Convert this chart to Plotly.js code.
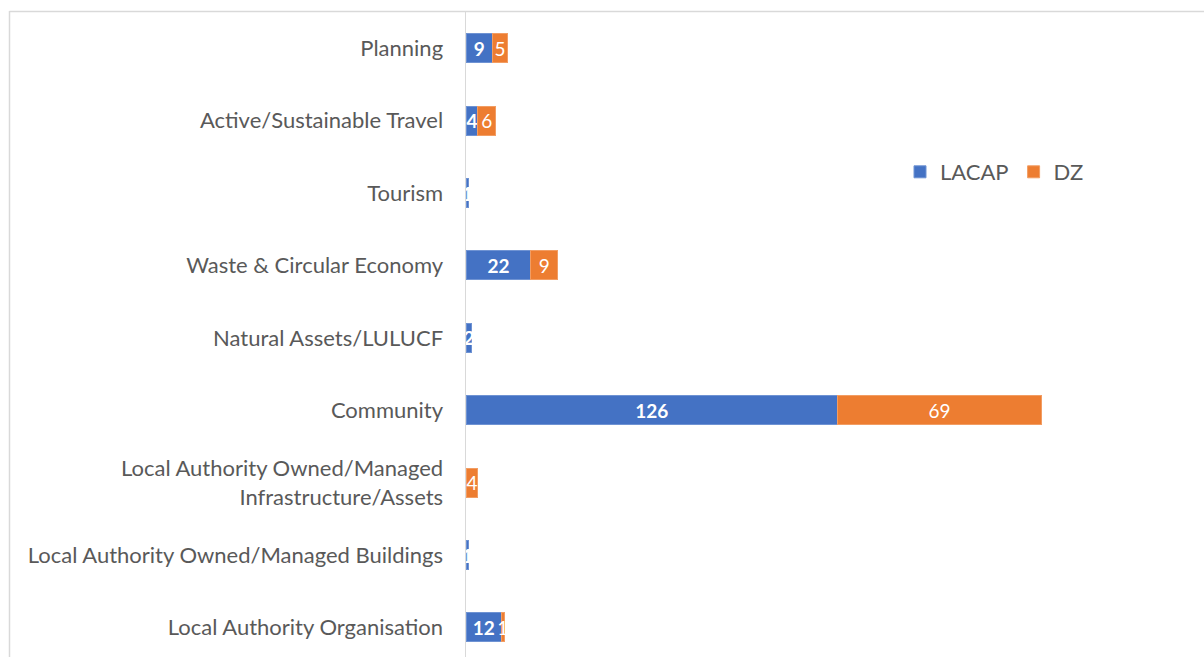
<!DOCTYPE html>
<html>
<head>
<meta charset="utf-8">
<script src="https://cdn.plot.ly/plotly-3.0.1.min.js"></script>
<style>html,body{margin:0;padding:0;background:#fff;}#chart{width:1204px;height:657px;}</style>
</head>
<body>
<div id="chart"></div>
<script>
const categories = [
  "Planning",
  "Active/Sustainable Travel",
  "Tourism",
  "Waste & Circular Economy",
  "Natural Assets/LULUCF",
  "Community",
  "Local Authority Owned/Managed<br>Infrastructure/Assets",
  "Local Authority Owned/Managed Buildings",
  "Local Authority Organisation"
];
const lacap = [9, 4, 1, 22, 2, 126, 0, 1, 12];
const dz    = [5, 6, 0, 9, 0, 69, 4, 0, 1];
const seriesNames = ["LACAP", "DZ"];

const W = 1204, H = 657;
const L = 466, R = 14, T = 12, B = 0;
const pxPerUnit = 2.95;
const plotW = W - L - R;
const plotH = H - T - B;
const xMax = plotW / pxPerUnit;
const bandPx = 72.4;
const yBottom = -0.5 + plotH / bandPx;

const labelFont = "Lato, 'Open Sans', sans-serif";
const lbl = v => v.map(x => x > 0 ? String(x) : "");
const edge = v => v.map(x => x > 0 ? 1 : 0);

const traces = [
  {
    type: "bar", orientation: "h", name: seriesNames[0],
    y: categories, x: lacap,
    text: lbl(lacap), textposition: "inside", insidetextanchor: "middle",
    textangle: 0, constraintext: "none",
    textfont: {family: labelFont, size: 19, color: "#ffffff", weight: "bold"},
    marker: {color: "#4472C4", line: {color: "#6F93D3", width: edge(lacap)}},
    hoverinfo: "x+y+name"
  },
  {
    type: "bar", orientation: "h", name: seriesNames[1],
    y: categories, x: dz,
    text: lbl(dz), textposition: "inside", insidetextanchor: "middle",
    textangle: 0, constraintext: "none",
    textfont: {family: labelFont, size: 19, color: "#ffffff"},
    marker: {color: "#ED7D31", line: {color: "#F29D63", width: edge(dz)}},
    hoverinfo: "x+y+name"
  }
];

const layout = {
  width: W, height: H,
  margin: {l: L, r: R, t: T, b: B, pad: 0},
  barmode: "stack",
  bargap: 0.6,
  paper_bgcolor: "#ffffff",
  plot_bgcolor: "#ffffff",
  font: {family: labelFont, color: "#595959", size: 22},
  uniformtext: {mode: "show", minsize: 19},
  showlegend: true,
  legend: {
    orientation: "h",
    x: (900 - L) / plotW, xanchor: "left",
    y: 1 - (172 - T) / plotH, yanchor: "middle",
    font: {family: labelFont, size: 22, color: "#595959"},
    traceorder: "normal",
    itemwidth: 30,
    bgcolor: "rgba(0,0,0,0)"
  },
  xaxis: {
    range: [0, xMax],
    showgrid: false, zeroline: false, showline: false,
    showticklabels: false, ticks: "", fixedrange: true
  },
  yaxis: {
    type: "category",
    categoryorder: "array", categoryarray: categories,
    range: [yBottom, -0.5],
    showgrid: false, zeroline: false,
    showline: true, linecolor: "#D9D9D9", linewidth: 1.5,
    ticks: "", ticklabelstandoff: 17,
    tickfont: {family: labelFont, size: 22, color: "#595959"},
    fixedrange: true
  },
  shapes: [
    {type: "line", xref: "paper", yref: "paper",
     x0: (9.5 - L) / plotW, x1: (9.5 - L) / plotW, y0: 1 + (T - 11) / plotH, y1: -0.1,
     line: {color: "#D9D9D9", width: 1.5}},
    {type: "line", xref: "paper", yref: "paper",
     x0: (9.5 - L) / plotW, x1: 1.1, y0: 1 + (T - 11.5) / plotH, y1: 1 + (T - 11.5) / plotH,
     line: {color: "#D9D9D9", width: 1.5}}
  ]
};

Plotly.newPlot("chart", traces, layout, {displayModeBar: false, staticPlot: true});
</script>
</body>
</html>
